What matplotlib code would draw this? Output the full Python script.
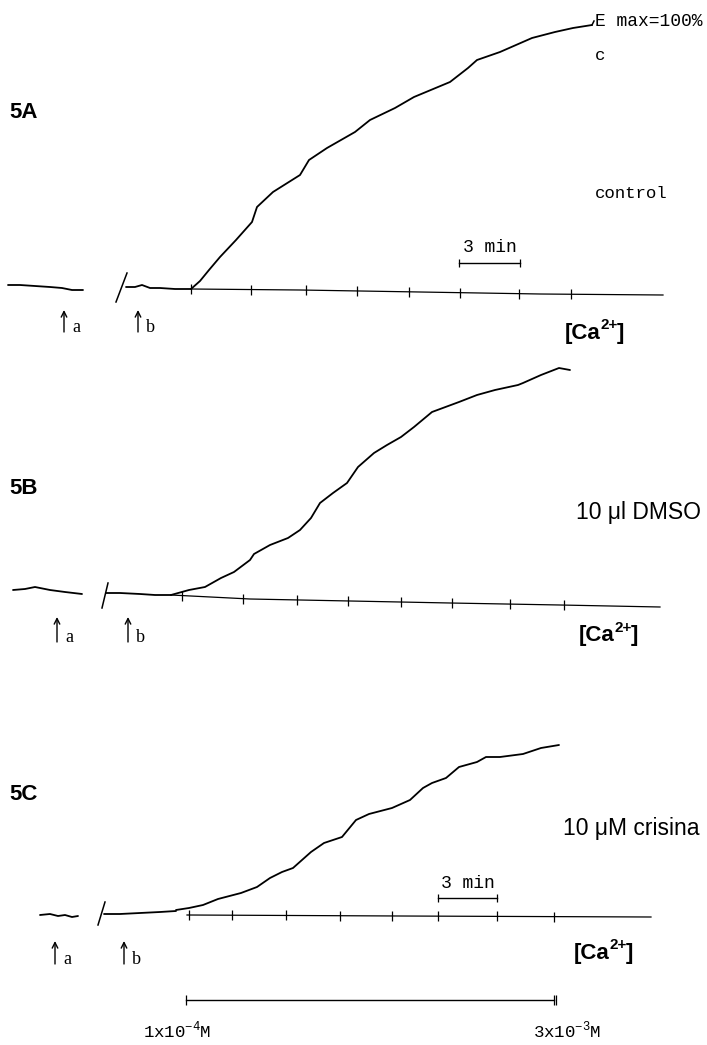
import numpy as np
import matplotlib.pyplot as plt

plt.rcParams['mathtext.fontset'] = 'custom'
plt.rcParams['mathtext.tt'] = 'Liberation Mono'

# --- traces (page pixel units) ---
# panel A (control)
pre_a_x = [8, 20, 35, 50, 62, 72, 83]
pre_a_y = [285, 285, 286, 287, 288, 290, 290]
rest_a_x = [126, 135, 142, 150, 160, 175, 191]
rest_a_y = [287, 287, 285, 288, 288, 289, 289]
curve_a_x = [191, 200, 209, 220, 236, 252, 257, 273, 300, 309, 327, 355, 370,
             395, 414, 450, 468, 477, 500, 532, 555, 573, 592]
curve_a_y = [289, 281, 270, 257, 240, 222, 207, 192, 175, 160, 148, 132, 120,
             108, 97, 82, 68, 60, 52, 38, 32, 28, 25]
base_a_x = [191, 300, 420, 540, 663]
base_a_y = [289, 290, 292, 294, 295]
ticks_a = [191, 251, 306, 357, 409, 460, 519, 571]

# panel B (10 ul DMSO)
pre_b_x = [13, 25, 35, 50, 65, 82]
pre_b_y = [590, 589, 587, 590, 592, 594]
rest_b_x = [106, 120, 140, 155, 171]
rest_b_y = [593, 593, 594, 595, 595]
curve_b_x = [171, 189, 205, 221, 234, 250, 254, 270, 288, 300, 311, 320, 333,
             347, 358, 374, 387, 401, 414, 432, 459, 477, 495, 518, 523, 541,
             559, 570]
curve_b_y = [595, 590, 587, 578, 572, 560, 554, 545, 538, 530, 518, 503, 493,
             483, 467, 453, 445, 437, 427, 412, 402, 395, 390, 385, 383, 375,
             368, 370]
base_b_x = [171, 250, 350, 450, 560, 660]
base_b_y = [595, 599, 601, 603, 605, 607]
ticks_b = [182, 243, 297, 348, 401, 452, 510, 564]

# panel C (10 uM crisina)
pre_c_x = [40, 50, 58, 65, 72, 78]
pre_c_y = [915, 914, 916, 915, 917, 916]
rest_c_x = [104, 120, 140, 160, 176]
rest_c_y = [914, 914, 913, 912, 911]
curve_c_x = [176, 189, 203, 218, 241, 257, 270, 282, 293, 311, 324, 342, 356,
             369, 392, 410, 423, 432, 446, 459, 477, 486, 500, 523, 541, 559]
curve_c_y = [910, 908, 905, 899, 893, 887, 878, 872, 868, 852, 843, 837, 820,
             814, 808, 800, 788, 783, 778, 767, 762, 757, 757, 754, 748, 745]
base_c_x = [187, 400, 651]
base_c_y = [915, 916, 917]
ticks_c = [189, 232, 286, 340, 392, 438, 497, 554]

# break marks (x0, y0, x1, y1)
breaks = [(116, 302, 127, 273), (102, 608, 108, 583), (98, 925, 105, 902)]

fig = plt.figure(figsize=(7.07, 10.45), dpi=100)
ax = fig.add_axes([0, 0, 1, 1])
ax.set_xlim(0, 707)
ax.set_ylim(1045, 0)
ax.axis('off')

tw = 1.3
for px, py in [(pre_a_x, pre_a_y), (rest_a_x, rest_a_y), (curve_a_x, curve_a_y),
               (pre_b_x, pre_b_y), (rest_b_x, rest_b_y), (curve_b_x, curve_b_y),
               (pre_c_x, pre_c_y), (rest_c_x, rest_c_y), (curve_c_x, curve_c_y)]:
    ax.plot(px, py, color='black', lw=tw, solid_capstyle='round',
            solid_joinstyle='round')

for bx, by, tk in [(base_a_x, base_a_y, ticks_a), (base_b_x, base_b_y, ticks_b),
                   (base_c_x, base_c_y, ticks_c)]:
    ax.plot(bx, by, color='black', lw=0.9)
    ax.plot(tk, np.interp(tk, bx, by), ls='none', marker='|', ms=7,
            mew=0.9, color='black')

for x0, y0, x1, y1 in breaks:
    ax.plot([x0, x1], [y0, y1], color='black', lw=1.1)

# E max connector
ax.plot([curve_a_x[-1], 594], [curve_a_y[-1], 21], color='black', lw=1.1)

mono = 'Liberation Mono'
sans = 'Liberation Sans'
serif = 'Liberation Serif'

# panel labels
for lab, yy in [('5A', 112), ('5B', 488), ('5C', 795)]:
    ax.text(9, yy, lab, fontsize=16, fontweight='bold', family=sans,
            va='center', ha='left')

ax.text(595, 21, 'E max=100%', family=mono, fontsize=13, va='center')
ax.text(595, 56, 'c', family=mono, fontsize=12.5, va='center')
ax.text(595, 193, 'control', family=mono, fontsize=12.5, va='center')
ax.text(576, 512, '10 \u03bcl DMSO', family=sans, fontsize=16.5, va='center')
ax.text(563, 828, '10 \u03bcM crisina', family=sans, fontsize=16.5,
        va='center')

# [Ca2+] labels built from pieces so the superscript sits tight
fig.canvas.draw()
renderer = fig.canvas.get_renderer()
inv = ax.transData.inverted()


def right_edge(t):
    bb = t.get_window_extent(renderer)
    return inv.transform((bb.x1, bb.y0))[0]


def left_edge(t):
    bb = t.get_window_extent(renderer)
    return inv.transform((bb.x0, bb.y0))[0]


for xx, yy in [(565, 333), (579, 636), (574, 953)]:
    t1 = ax.text(xx, yy, '[Ca', family=sans, fontweight='bold', fontsize=16,
                 va='center')
    x2 = right_edge(t1)
    t2 = ax.text(x2, yy - 8, '2+', family=sans, fontweight='bold',
                 fontsize=11, va='center')
    fig.canvas.draw()
    shift = left_edge(t2) - x2
    t2.set_x(x2 - shift - 0.5)
    fig.canvas.draw()
    x3 = right_edge(t2)
    ax.text(x3 - 1, yy, ']', family=sans, fontweight='bold', fontsize=16,
            va='center')

# arrows a / b
for xa, xb, ytop, ybot, ylab in [(64, 138, 310, 332, 327),
                                  (57, 128, 617, 642, 637),
                                  (55, 124, 941, 964, 960)]:
    for xx, lab in [(xa, 'a'), (xb, 'b')]:
        ax.annotate('', xy=(xx, ytop), xytext=(xx, ybot),
                    arrowprops=dict(arrowstyle='->', lw=1.0, color='black',
                                    shrinkA=0, shrinkB=0))
        ax.text(xx + 8, ylab, lab, family=serif, fontsize=13, va='center')

# 3 min scale bars
for x0, x1, yb, yt in [(459, 520, 263, 248), (438, 497, 898, 883)]:
    ax.plot([x0, x1], [yb, yb], color='black', lw=1.0)
    ax.plot([x0, x1], [yb, yb], ls='none', marker='|', ms=6, mew=0.9,
            color='black')
    ax.text((x0 + x1) / 2, yt, '3 min', family=mono, fontsize=13,
            ha='center', va='center')

# concentration range bar
ax.plot([186, 554], [1000, 1000], color='black', lw=1.0)
ax.plot([186, 554, 556], [1000, 1000, 1000], ls='none', marker='|', ms=7,
        mew=0.9, color='black')
ax.text(143, 1030, r'1x10$^{\mathtt{-4}}$M', family=mono, fontsize=12.5,
        va='center')
ax.text(533, 1030, r'3x10$^{\mathtt{-3}}$M', family=mono, fontsize=12.5,
        va='center')

plt.savefig('out.png', dpi=100, facecolor='white')
